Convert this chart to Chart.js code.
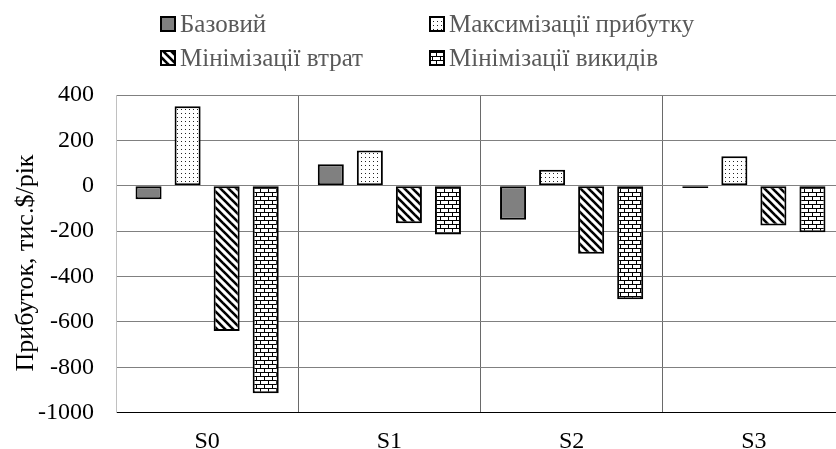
<!DOCTYPE html>
<html>
<head>
<meta charset="utf-8">
<script src="https://cdn.jsdelivr.net/npm/chart.js@4/dist/chart.umd.min.js"></script>
<style>
  html, body { margin: 0; padding: 0; background: #fff; overflow: hidden; }
  #wrap { width: 846px; height: 449px; position: relative; }
</style>
</head>
<body>
<div id="wrap"><canvas id="profitChart"></canvas></div>
<script>
const categories = ["S0", "S1", "S2", "S3"];
const seriesNames = ["Базовий", "Максимізації прибутку", "Мінімізації втрат", "Мінімізації викидів"];
const baseValues = [-60, 95, -150, -10];
const maxProfitValues = [350, 155, 70, 130];
const minLossValues = [-640, -165, -300, -175];
const minEmissionValues = [-915, -215, -500, -205];
const yMin = -1000, yMax = 400, yStep = 200;
const yTitle = "Прибуток, тис.$/рік";

const FONT = "'Liberation Serif', 'Times New Roman', serif";

// small tiles for the hatch fills
function makePattern(w, h, draw) {
  const c = document.createElement("canvas");
  c.width = w;
  c.height = h;
  const g = c.getContext("2d");
  draw(g);
  return g.createPattern(c, "repeat");
}

const dotsFill = makePattern(4, 4, (g) => {
  g.fillStyle = "#fff";
  g.fillRect(0, 0, 4, 4);
  g.fillStyle = "#222";
  g.fillRect(1, 1, 1, 1);
});

const stripeFill = makePattern(8, 8, (g) => {
  g.fillStyle = "#fff";
  g.fillRect(0, 0, 8, 8);
  g.strokeStyle = "#000";
  g.lineWidth = 2.6;
  for (const k of [-8, 0, 8]) {
    g.beginPath();
    g.moveTo(k - 1, -1);
    g.lineTo(k + 9, 9);
    g.stroke();
  }
});

const brickFill = makePattern(8, 8, (g) => {
  g.fillStyle = "#000";
  g.fillRect(0, 0, 8, 8);
  g.fillStyle = "#fff";
  g.fillRect(1, 1, 7, 3);
  g.fillRect(5, 5, 3, 3);
  g.fillRect(0, 5, 4, 3);
});

const fills = ["#808080", dotsFill, stripeFill, brickFill];
const values = [baseValues, maxProfitValues, minLossValues, minEmissionValues];

// legend in two columns + rotated axis title
const legendAndTitle = {
  id: "legendAndTitle",
  afterDraw(chart) {
    const ctx = chart.ctx;
    const cols = [161, 430];
    const rows = [24, 58];
    ctx.save();
    chart.data.datasets.forEach((ds, i) => {
      const x = cols[i % 2];
      const y = rows[Math.floor(i / 2)];
      ctx.fillStyle = ds.backgroundColor;
      ctx.fillRect(x, y - 7, 14, 14);
      ctx.strokeStyle = "#000";
      ctx.lineWidth = 2;
      ctx.strokeRect(x, y - 7, 14, 14);
      ctx.fillStyle = "#595959";
      ctx.font = "25px " + FONT;
      ctx.textBaseline = "middle";
      ctx.textAlign = "left";
      ctx.fillText(ds.label, x + 19, y + 1);
    });
    ctx.translate(33, 263);
    ctx.rotate(-Math.PI / 2);
    ctx.fillStyle = "#000";
    ctx.font = "26px " + FONT;
    ctx.textAlign = "center";
    ctx.textBaseline = "alphabetic";
    ctx.fillText(yTitle, 0, 0);
    ctx.restore();
  },
};

new Chart(document.getElementById("profitChart"), {
  type: "bar",
  data: {
    labels: categories,
    datasets: seriesNames.map((name, i) => ({
      label: name,
      data: values[i],
      backgroundColor: fills[i],
      borderColor: "#000",
      borderWidth: 2,
      borderSkipped: false,
      barPercentage: 0.667,
      categoryPercentage: 0.857,
    })),
  },
  options: {
    responsive: true,
    maintainAspectRatio: false,
    animation: false,
    layout: { padding: { top: 95, right: 1, bottom: 0, left: 0 } },
    scales: {
      x: {
        afterFit: (s) => { s.height = 36; },
        grid: {
          offset: true,
          drawTicks: false,
          color: (c) => (c.index === 0 ? "#c0c0c0" : "#6a6a6a"),
        },
        border: { color: "#000", width: 1 },
        ticks: { color: "#000", font: { family: FONT, size: 24 }, padding: 15 },
      },
      y: {
        min: yMin,
        max: yMax,
        afterFit: (s) => { s.width = 116; },
        grid: { drawTicks: false, color: "#808080" },
        border: { color: "#c0c0c0", width: 1 },
        ticks: {
          stepSize: yStep,
          color: "#000",
          font: { family: FONT, size: 24 },
          padding: 22,
          callback: (v) => String(v),
        },
      },
    },
    plugins: {
      legend: { display: false },
      tooltip: { enabled: false },
    },
  },
  plugins: [legendAndTitle],
});
</script>
</body>
</html>
